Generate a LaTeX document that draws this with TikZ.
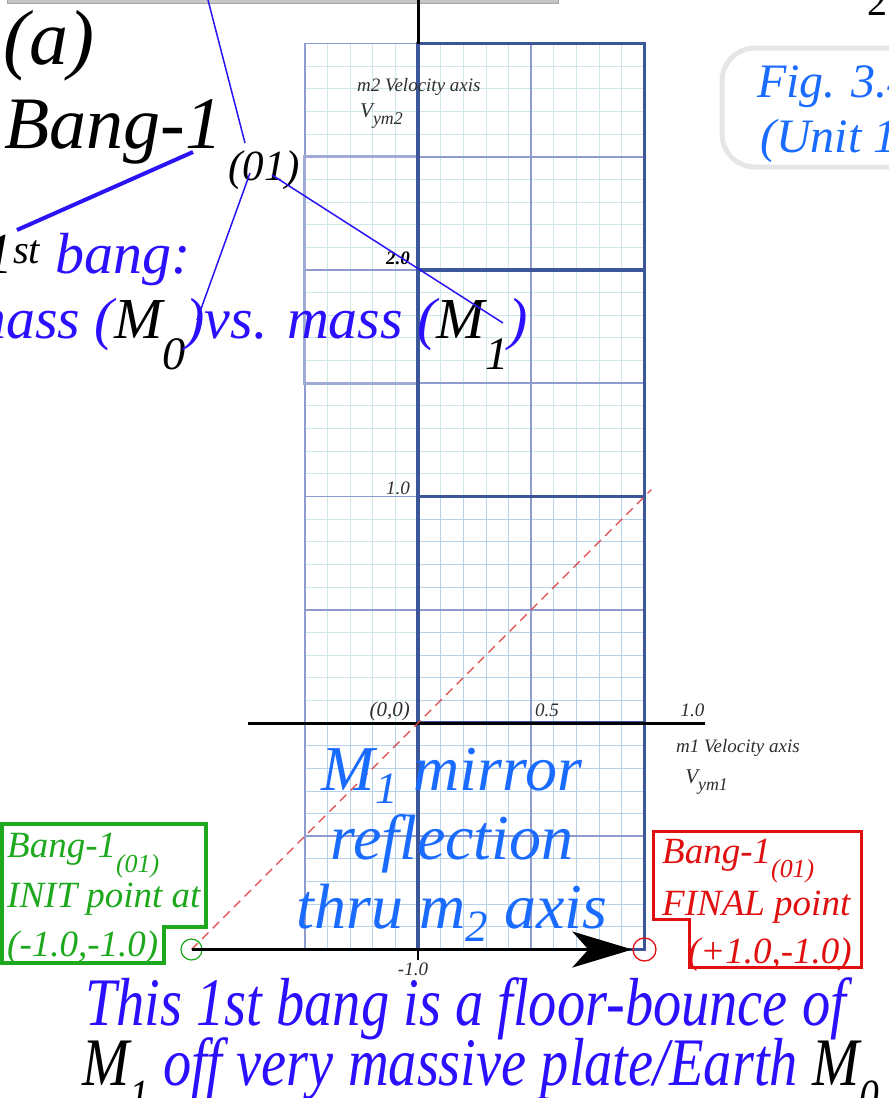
\documentclass[tikz,border=0pt]{standalone}
\usepackage{fontspec}
\setmainfont{Liberation Serif}
\usepackage{graphicx}
\usetikzlibrary{arrows.meta, positioning, calc}
\definecolor{gridteal}{HTML}{CFE6EA}
\definecolor{gridblue}{HTML}{B5D4EC}
\definecolor{gridmid}{HTML}{8E9BCF}
\definecolor{gridheavy}{HTML}{3B5699}
\definecolor{leaderblue}{HTML}{2A14F5}
\definecolor{textblue}{HTML}{2B0FFF}
\definecolor{mirrorblue}{HTML}{1A6BFF}
\definecolor{initgreen}{HTML}{1DA81D}
\definecolor{finalred}{HTML}{E01010}
\definecolor{dashred}{HTML}{E04545}
\definecolor{axislabel}{HTML}{2E2E2E}
\definecolor{figgray}{HTML}{E6E6E6}
\newcommand{\fsz}[1]{\fontsize{#1}{#1}\selectfont}
\newcommand{\lowsub}[1]{\raisebox{-0.4em}{\scalebox{0.7}{#1}}}
\newcommand{\dropsub}[1]{\raisebox{-0.55em}{\scalebox{0.8}{#1}}}
\newcommand{\axsub}[1]{\raisebox{-0.35em}{\scalebox{0.85}{#1}}}
\newcommand{\mirsub}[1]{\raisebox{-0.2em}{\scalebox{0.7}{#1}}}

\begin{document}
\begin{tikzpicture}[x=1pt, y=-1pt,
  every node/.style={inner sep=0pt, font=\itshape},
  minorteal/.style={draw=gridteal, line width=0.9pt},
  minorblue/.style={draw=gridblue, line width=0.9pt},
  midline/.style={draw=gridmid, line width=1.6pt},
  midbox/.style={draw=gridmid!85, line width=3pt},
  heavyline/.style={draw=gridheavy, line width=3.2pt},
  axis/.style={draw=black, line width=3pt},
  diag/.style={draw=dashred, line width=1.3pt, dash pattern=on 9pt off 6pt},
  flow/.style={draw=black, line width=3pt,
               -{Stealth[length=60pt, width=36pt, inset=16pt]}},
  dotinit/.style={circle, draw=initgreen, line width=1.2pt, minimum size=21pt},
  dotfinal/.style={circle, draw=finalred, line width=1.3pt, minimum size=23pt},
  leader/.style={draw=leaderblue, line width=1.5pt},
  ticklbl/.style={font=\itshape\fsz{19}, text=axislabel},
  bigtxt/.style={font=\itshape\fsz{58}},
  boxtxt/.style={font=\itshape\fontsize{37}{49.5}\selectfont},
  mirrortxt/.style={font=\itshape\fontsize{64}{69}\selectfont, text=mirrorblue},
  bottomtxt/.style={font=\itshape\fsz{68}}
]
\useasboundingbox (0,0) rectangle (889,1098);
% top bar
\fill[gray!45, draw=gray!70] (7,-10) rectangle (558,3);

% velocity plot
\begin{scope}[shift={(418,723)}, x=226.5pt, y=226.5pt]
  \draw[minorteal, step=0.1] (-0.5,-1) grid (1.001,3.001);
  \draw[minorblue, step=0.1] (0,-1) grid (1.001,1);
  \draw[minorblue, step=0.1] (-0.5,-1) grid (0,0);
  \draw[midline, step=0.5] (-0.5,-1) grid (1.001,3.001);
  \draw[midbox] (-0.5,1.5) rectangle (0,2.5);
  \draw[heavyline] (0,-1) rectangle (1,3);
  \foreach \v in {0,1,2}
    \draw[heavyline] (0,\v) -- (1,\v);
  % axes
  \draw[axis] (-0.75,0) -- (1.267,0);
  \draw[axis] (0,3) -- (0,3.25);
  \draw[axis, line width=1.5pt] (0,-1) -- (0,-1.045);
  % labels
  \node[ticklbl, font=\itshape\fsz{21}, anchor=base east] (origin) at (-0.035,0.03) {(0,0)};
  \node[ticklbl, anchor=base] (xhalf) at (0.57,0.03) {0.5};
  \node[ticklbl, anchor=base] (xone) at (1.212,0.03) {1.0};
  \node[ticklbl, anchor=base east] (yone) at (-0.035,1.011) {1.0};
  \node[ticklbl, font=\itshape\bfseries\fsz{19}, text=black, anchor=base east] (ytwo) at (-0.035,2.026) {2.0};
  \node[ticklbl, anchor=base] (yminus) at (-0.022,-1.113) {-1.0};
  \node[ticklbl, anchor=base west] (maxis) at (-0.27,2.786) {m2 Velocity axis};
  \node[ticklbl, font=\itshape\fsz{21}, anchor=base west] (mvel) at (-0.256,2.675) {V\axsub{ym2}};
  \node[ticklbl, anchor=base west] (naxis) at (1.139,-0.128) {m1 Velocity axis};
  \node[ticklbl, font=\itshape\fsz{21}, anchor=base west] (nvel) at (1.179,-0.265) {V\axsub{ym1}};
  % bang path
  \node[dotinit] (init) at (-1,-1) {};
  \node[dotfinal] (final) at (1,-1) {};
  \coordinate (diagend) at (1.03,1.03);
  \draw[diag] (init.center) -- (diagend);
  \draw[flow] (init.center) -- (final);
\end{scope}

% title block
\node[font=\itshape\fsz{78}, anchor=base west] (panel) at (3,64) {(a)};
\node[font=\itshape\fsz{74}, anchor=base west] (bang) at (4,148) {Bang-1};
\node[font=\itshape\fsz{43}, anchor=base west] (sub01) at (228,180) {(01)};
\node[bigtxt, anchor=base west] (first) at (-16,273)
     {1\textsuperscript{st} \textcolor{textblue}{bang:}};
\node[bigtxt, anchor=base east] (masses) at (528,338)
     {\textcolor{textblue}{mass (}M\dropsub{0}\textcolor{textblue}{)vs. mass (}M\dropsub{1}\textcolor{textblue}{)}};
% leaders
\coordinate (topin) at (208,0);
\coordinate (subtop) at (245,143);
\coordinate (bangfoot) at (193,152);
\coordinate (firsttop) at (17,230);
\coordinate (subleft) at (250,173);
\coordinate (mzero) at (197,320);
\coordinate (subright) at (272,175);
\coordinate (mone) at (503,323);
\draw[leader] (topin) -- (subtop);
\draw[leader, line width=4pt] (bangfoot) -- (firsttop);
\draw[leader] (subleft) -- (mzero);
\draw[leader] (subright) -- (mone);

% figure tag
\draw[figgray, line width=5pt, rounded corners=33pt] (722,48) rectangle (960,167);
\node[font=\itshape\fsz{48}, text=mirrorblue, anchor=base west] (figno) at (757,97) {Fig. 3.4};
\node[font=\itshape\fsz{48}, text=mirrorblue, anchor=base west] (figunit) at (760,152) {(Unit 1)};
\node[font=\upshape\fsz{40}, anchor=base west] (pagenum) at (867,15) {2};

% mirror note
\node[mirrortxt, align=center, anchor=north] (mirror) at (452,748)
     {M\mirsub{1} mirror\\reflection\\thru m\mirsub{2} axis};

% init / final tags
\draw[initgreen, line width=4pt] (1.5,824) -- (206,824) -- (206,927) -- (164,927)
      -- (164,963) -- (1.5,963) -- cycle;
\node[boxtxt, text=initgreen, align=left, anchor=north west] (initlbl) at (7,833)
     {Bang-1\lowsub{(01)}\\INIT point at\\(-1.0,-1.0)};
\draw[finalred, line width=3pt] (653,831) -- (861,831) -- (861,967) -- (689,967)
      -- (689,919) -- (653,919) -- cycle;
\node[boxtxt, text=finalred, anchor=base west] (finalA) at (662,863) {Bang-1\lowsub{(01)}};
\node[boxtxt, text=finalred, anchor=base west] (finalB) at (662,915) {FINAL point};
\node[boxtxt, text=finalred, anchor=base east] (finalC) at (852,963) {(+1.0,-1.0)};

% bottom caption
\node[bottomtxt, anchor=base west] (captionA) at (85,1025)
     {\scalebox{0.83}[1]{\textcolor{textblue}{This 1st bang is a floor-bounce of}}};
\node[bottomtxt, anchor=base west] (captionB) at (82,1085)
     {\scalebox{0.83}[1]{M\lowsub{1} \textcolor{textblue}{off very massive plate/Earth} M\lowsub{0}}};
\end{tikzpicture}
\end{document}
